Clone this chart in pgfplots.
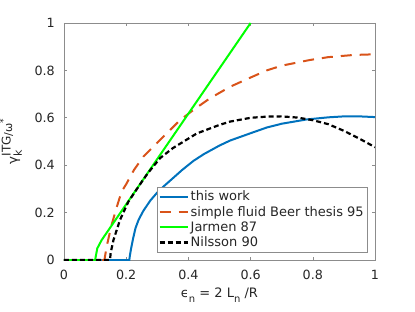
\documentclass[border=0pt]{standalone}
\usepackage{fontspec}
\setmainfont{DejaVu Sans}
\usepackage{pgfplots}
\pgfplotsset{compat=1.18}
\definecolor{mblue}{rgb}{0,0.447,0.741}
\definecolor{morange}{rgb}{0.85,0.325,0.098}
\definecolor{mgreen}{rgb}{0,1,0}
\definecolor{axgray}{rgb}{0.55,0.55,0.55}
\definecolor{txtgray}{rgb}{0.15,0.15,0.15}
\begin{document}
\begin{tikzpicture}
\begin{axis}[name=ax, scale only axis, width=311pt, height=237pt,
  xmin=0, xmax=1, ymin=0, ymax=1,
  axis line style={axgray, line width=0.6pt},
  tick style={axgray, line width=0.6pt},
  tick align=inside, major tick length=3.5pt,
  xtick={0,0.2,0.4,0.6,0.8,1}, xticklabels={0,0.2,0.4,0.6,0.8,1},
  ytick={0,0.2,0.4,0.6,0.8,1}, yticklabels={0,0.2,0.4,0.6,0.8,1},
  ticklabel style={font=\fontsize{12.7}{15}\selectfont, text=txtgray},
  xticklabel style={anchor=north, inner sep=0pt, yshift=-10pt},
  yticklabel style={anchor=east, inner sep=0pt, xshift=-9pt},
  xlabel={ϵ\raisebox{-0.6ex}{\fontsize{10}{10}\selectfont n} = 2 L\raisebox{-0.6ex}{\fontsize{10}{10}\selectfont n} /R},
  xlabel style={at={(rel axis cs:0.5,-0.16)}, anchor=base, font=\fontsize{13}{15}\selectfont, text=txtgray, inner sep=0pt},
  every axis y label/.style={at={(rel axis cs:-0.135,0.5)}, rotate=90, anchor=south, font=\fontsize{13.5}{15}\selectfont, text=txtgray, inner sep=0pt},
  ylabel={γ\rlap{\raisebox{-0.6ex}{\fontsize{11}{11}\selectfont k}}\raisebox{0.9ex}{\fontsize{12}{11}\selectfont ITG}\raisebox{0.7ex}{\fontsize{11}{11}\selectfont /ω}\raisebox{1.5ex}{\fontsize{9}{9}\selectfont *}},
  legend style={at={(rel axis cs:0.974,0.034)}, anchor=south east, draw=axgray,
    font=\fontsize{13}{15.5}\selectfont, text=txtgray, inner xsep=1pt, inner ysep=1.5pt,
    row sep=0pt, fill=white},
  legend cell align=left,
  legend image code/.code={\draw[#1] (0pt,0pt) -- (28pt,0pt);},
]
\addplot[mblue, line width=2pt] coordinates {
(0,0) (0.21,0) (0.212,0.02) (0.216,0.05) (0.222,0.09) (0.23,0.135) (0.24,0.17) (0.255,0.207)
(0.277,0.25) (0.3,0.285) (0.319,0.309) (0.35,0.345) (0.38,0.38) (0.416,0.418) (0.45,0.447)
(0.5,0.483) (0.534,0.504) (0.6,0.535) (0.652,0.559) (0.7,0.575) (0.78,0.593)
(0.85,0.602) (0.9,0.606) (0.95,0.606) (1.0,0.603)};
\addlegendentry{this work}
\addplot[morange, line width=2pt, dash pattern=on 11pt off 8pt] coordinates {
(0,0) (0.13,0) (0.137,0.056) (0.153,0.148) (0.17,0.225) (0.185,0.288) (0.2,0.32)
(0.225,0.38) (0.255,0.436) (0.3,0.495) (0.373,0.59) (0.42,0.637) (0.469,0.682)
(0.534,0.731) (0.6,0.77) (0.652,0.8) (0.7,0.82) (0.791,0.844) (0.85,0.856)
(0.93,0.865) (1.0,0.868)};
\addlegendentry{simple fluid Beer thesis 95}
\addplot[mgreen, line width=2pt] coordinates {
(0,0) (0.1,0) (0.107,0.049) (0.121,0.084) (0.6,1.0)};
\addlegendentry{Jarmen 87}
\addplot[black, line width=2.2pt, dash pattern=on 5pt off 3pt] coordinates {
(0,0) (0.148,0) (0.15,0.03) (0.159,0.084) (0.18,0.169) (0.207,0.246) (0.25,0.33)
(0.27,0.367) (0.309,0.43) (0.35,0.472) (0.427,0.534) (0.5,0.57) (0.534,0.584)
(0.6,0.6) (0.652,0.605) (0.7,0.606) (0.75,0.601) (0.8,0.59) (0.85,0.573)
(0.9,0.545) (0.95,0.512) (1.0,0.476)};
\addlegendentry{Nilsson 90}
\end{axis}
\pgfresetboundingbox
\path ([shift={(-64pt,-51pt)}]ax.south west) rectangle ([shift={(40pt,23pt)}]ax.north east);
\end{tikzpicture}
\end{document}
